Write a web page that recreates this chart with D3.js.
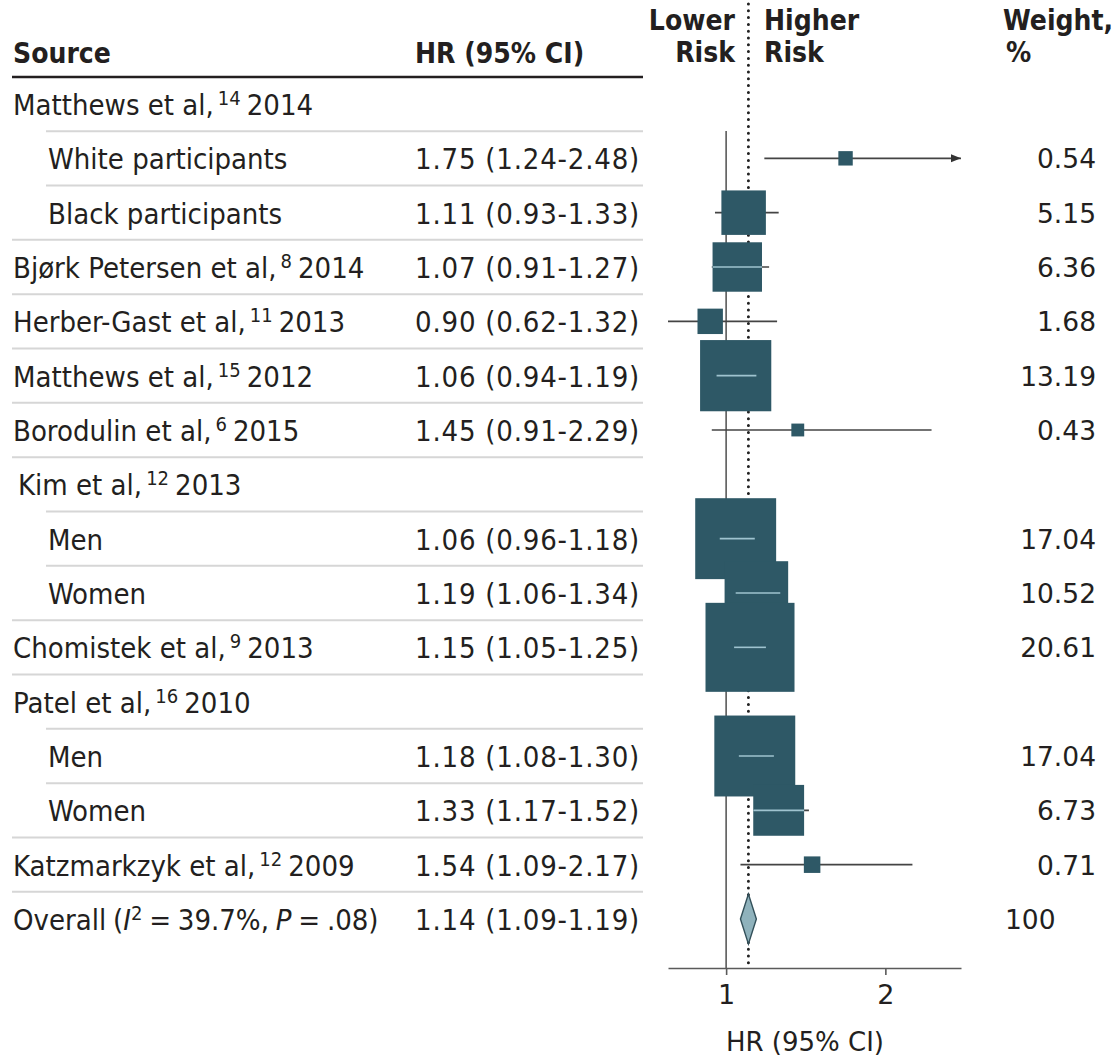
<!DOCTYPE html>
<html>
<head>
<meta charset="utf-8">
<script src="https://cdn.jsdelivr.net/npm/d3@7"></script>
<style>
  body { margin: 0; background: #fff; }
  svg { display: block; }
</style>
</head>
<body>
<script>
// forest plot rows, top to bottom
const sources = ["Matthews et al,", "White participants", "Black participants", "Bjørk Petersen et al,",
  "Herber-Gast et al,", "Matthews et al,", "Borodulin et al,", "Kim et al,", "Men", "Women",
  "Chomistek et al,", "Patel et al,", "Men", "Women", "Katzmarkzyk et al,", "Overall"];
const refs = ["14", "", "", "8", "11", "15", "6", "12", "", "", "9", "16", "", "", "12", ""];
const years = ["2014", "", "", "2014", "2013", "2012", "2015", "2013", "", "", "2013", "2010", "", "", "2009", ""];
const subRow = [false, true, true, false, false, false, false, false, true, true, false, false, true, true, false, false];
const hr = [null, 1.75, 1.11, 1.07, 0.90, 1.06, 1.45, null, 1.06, 1.19, 1.15, null, 1.18, 1.33, 1.54, 1.14];
const lo = [null, 1.24, 0.93, 0.91, 0.62, 0.94, 0.91, null, 0.96, 1.06, 1.05, null, 1.08, 1.17, 1.09, 1.09];
const hi = [null, 2.48, 1.33, 1.27, 1.32, 1.19, 2.29, null, 1.18, 1.34, 1.25, null, 1.30, 1.52, 2.17, 1.19];
const weights = [null, 0.54, 5.15, 6.36, 1.68, 13.19, 0.43, null, 17.04, 10.52, 20.61, null, 17.04, 6.73, 0.71, 100];
const xTicks = [1, 2];

const W = 1115, H = 1060;
const condensed = "'DejaVu Sans Condensed', 'DejaVu Sans', sans-serif";
const plain = "'DejaVu Sans', sans-serif";
const ink = "#231f20";

const rows = sources.map((s, i) => ({
  i, source: s, ref: refs[i], year: years[i], sub: subRow[i],
  hr: hr[i], lo: lo[i], hi: hi[i], w: weights[i], overall: i === sources.length - 1
}));

const x = d3.scaleLinear().domain([0.635, 2.475]).range([668, 961]);
const y = d3.scalePoint().domain(d3.range(rows.length)).range([104, 919]);
const box = d3.scaleSqrt().domain([0, 20.61]).range([0, 89]);
const rowStep = y.step();

const svg = d3.select("body").append("svg")
  .attr("width", W).attr("height", H);

svg.append("rect").attr("width", W).attr("height", H).attr("fill", "#fff");

// headers
const head = svg.append("g").attr("font-family", condensed).attr("font-weight", "bold")
  .attr("font-size", 28).attr("fill", ink);
head.append("text").attr("x", 13).attr("y", 63).text("Source");
head.append("text").attr("x", 415).attr("y", 63).text("HR (95% CI)");
head.append("text").attr("x", 735).attr("y", 30).attr("text-anchor", "end").text("Lower");
head.append("text").attr("x", 735).attr("y", 62).attr("text-anchor", "end").text("Risk");
head.append("text").attr("x", 764).attr("y", 30).text("Higher");
head.append("text").attr("x", 764).attr("y", 62).text("Risk");
head.append("text").attr("x", 1003).attr("y", 30).text("Weight,");
head.append("text").attr("x", 1006).attr("y", 62).text("%");

svg.append("line").attr("x1", 12).attr("x2", 643).attr("y1", 77).attr("y2", 77)
  .attr("stroke", ink).attr("stroke-width", 2.5);

// row separators (indented when the next row is a subgroup)
svg.append("g").selectAll("line").data(rows.slice(0, -1)).join("line")
  .attr("x1", d => rows[d.i + 1].sub ? 46 : 12)
  .attr("x2", 643)
  .attr("y1", d => y(d.i) + rowStep / 2)
  .attr("y2", d => y(d.i) + rowStep / 2)
  .attr("stroke", "#d6d6d6").attr("stroke-width", 2);

// source labels
const lab = svg.append("g").attr("font-family", condensed).attr("font-size", 29).attr("fill", ink);
lab.selectAll("text").data(rows.filter(d => !d.overall)).join("text")
  .attr("x", d => d.sub ? 48 : (d.source === "Kim et al," ? 18 : 13))
  .attr("y", d => y(d.i) + 11)
  .each(function (d) {
    const t = d3.select(this);
    t.append("tspan").text(d.source);
    if (d.ref) {
      t.append("tspan").attr("dx", 4).attr("dy", -10).attr("font-size", 20).text(d.ref);
      t.append("tspan").attr("dx", 6).attr("dy", 10).text(d.year);
    }
  });

// overall label
const ov = rows[rows.length - 1];
const ovText = lab.append("text").attr("x", 13).attr("y", y(ov.i) + 11).attr("word-spacing", -1.5);
ovText.append("tspan").text("Overall (");
ovText.append("tspan").attr("font-style", "italic").text("I");
ovText.append("tspan").attr("dy", -10).attr("font-size", 20).text("2");
ovText.append("tspan").attr("dy", 10).text(" = 39.7%, ");
ovText.append("tspan").attr("font-style", "italic").text("P");
ovText.append("tspan").text(" = .08)");

// HR (95% CI) column
const f2 = d3.format(".2f");
lab.append("g").selectAll("text").data(rows.filter(d => d.hr != null)).join("text")
  .attr("x", 415).attr("y", d => y(d.i) + 11)
  .attr("letter-spacing", 0.8)
  .text(d => `${f2(d.hr)} (${f2(d.lo)}-${f2(d.hi)})`);

// weight column
svg.append("g").attr("font-family", plain).attr("font-size", 26.5).attr("fill", ink)
  .selectAll("text").data(rows.filter(d => d.w != null)).join("text")
  .attr("x", d => d.overall ? 1005 : 1096)
  .attr("text-anchor", d => d.overall ? "start" : "end")
  .attr("y", d => y(d.i) + 10)
  .text(d => d.overall ? d3.format("d")(d.w) : f2(d.w));

// plot
const plot = svg.append("g");
const axisY = 968;

// no-effect line
plot.append("line").attr("x1", x(1)).attr("x2", x(1)).attr("y1", 131).attr("y2", axisY)
  .attr("stroke", "#5a5a5a").attr("stroke-width", 1.6);

// overall estimate line (dotted)
plot.append("line").attr("x1", x(ov.hr)).attr("x2", x(ov.hr)).attr("y1", 4).attr("y2", axisY)
  .attr("stroke", "#222").attr("stroke-width", 3).attr("stroke-linecap", "round")
  .attr("stroke-dasharray", "0 6.8");

const [dMin, dMax] = x.domain();
const studies = rows.filter(d => d.hr != null && !d.overall);

svg.append("defs").append("marker").attr("id", "arr")
  .attr("viewBox", "0 0 10 10").attr("refX", 10).attr("refY", 5)
  .attr("markerWidth", 10).attr("markerHeight", 10).attr("markerUnits", "userSpaceOnUse")
  .attr("orient", "auto")
  .append("path").attr("d", "M0,1 L10,5 L0,9 Z").attr("fill", "#333");

// CI lines
plot.append("g").selectAll("line").data(studies).join("line")
  .attr("x1", d => x(Math.max(d.lo, dMin)))
  .attr("x2", d => x(Math.min(d.hi, dMax)))
  .attr("y1", d => y(d.i)).attr("y2", d => y(d.i))
  .attr("stroke", "#444").attr("stroke-width", 1.6)
  .attr("marker-end", d => d.hi > dMax ? "url(#arr)" : null);

// weight boxes
plot.append("g").selectAll("rect").data(studies).join("rect")
  .attr("x", d => x(d.hr) - box(d.w) / 2)
  .attr("y", d => y(d.i) - box(d.w) / 2)
  .attr("width", d => box(d.w))
  .attr("height", d => box(d.w))
  .attr("fill", "#2e5866");

// CI shown inside the box unless it clearly crosses both box edges
const inner = studies.filter(d => {
  const s = box(d.w) / 2;
  return !(x(d.lo) < x(d.hr) - s - 2 && x(d.hi) > x(d.hr) + s + 2);
});
plot.append("g").selectAll("line").data(inner).join("line")
  .attr("x1", d => Math.max(x(d.lo), x(d.hr) - box(d.w) / 2))
  .attr("x2", d => Math.min(x(d.hi), x(d.hr) + box(d.w) / 2))
  .attr("y1", d => y(d.i)).attr("y2", d => y(d.i))
  .attr("stroke", "#9fc3cf").attr("stroke-width", 1.6);

// overall diamond
const dh = 25;
plot.append("path")
  .attr("d", `M${x(ov.lo)},${y(ov.i)} L${x(ov.hr)},${y(ov.i) - dh} L${x(ov.hi)},${y(ov.i)} L${x(ov.hr)},${y(ov.i) + dh} Z`)
  .attr("fill", "#8fb2bc").attr("stroke", "#33505a").attr("stroke-width", 1.4);

// x axis
const ax = svg.append("g").attr("transform", `translate(0,${axisY})`)
  .call(d3.axisBottom(x).tickValues(xTicks).tickFormat(d3.format("d")).tickSize(7).tickSizeOuter(0).tickPadding(10));
ax.select(".domain").attr("stroke", "#5a5a5a").attr("stroke-width", 1.6);
ax.selectAll(".tick line").attr("stroke", "#5a5a5a").attr("stroke-width", 1.6);
ax.selectAll(".tick text").attr("font-family", plain).attr("font-size", 27).attr("fill", ink);

svg.append("text").attr("x", 805).attr("y", 1051).attr("text-anchor", "middle")
  .attr("font-family", plain).attr("font-size", 26).attr("fill", ink)
  .text("HR (95% CI)");
</script>
</body>
</html>
